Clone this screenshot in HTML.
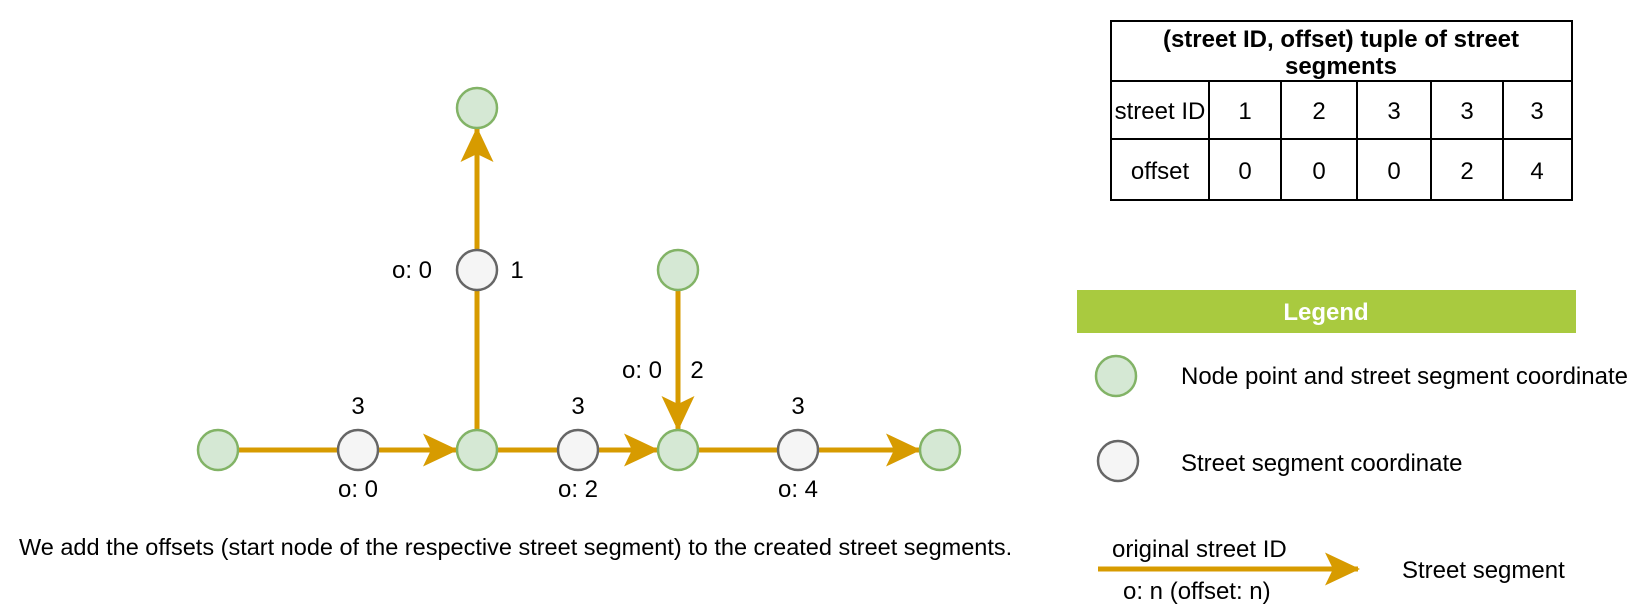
<!DOCTYPE html>
<html><head><meta charset="utf-8"><style>
body{margin:0;background:#fff;width:1648px;height:604px;overflow:hidden;font-family:"Liberation Sans",sans-serif}
svg{position:absolute;left:0;top:0}
text{font-family:"Liberation Sans",sans-serif;fill:#000}
</style></head><body>
<svg width="1648" height="604">
<defs>
<marker id="ah" markerWidth="7" markerHeight="7" refX="6.6" refY="3.5" orient="auto" markerUnits="strokeWidth">
<path d="M0,0.2 L7,3.5 L0,6.8 L1.6,3.5 Z" fill="#d79b00"/></marker>
</defs>
<g id="edges"></g>
<g id="nodes"></g>
<g id="labels" font-size="24"></g>
<text x="19" y="555" font-size="23.5">We add the offsets (start node of the respective street segment) to the created street segments.</text>

<g stroke="#000" stroke-width="2" fill="none">
<rect x="1111" y="21" width="461" height="179"/>
<line x1="1111" y1="81" x2="1572" y2="81"/>
<line x1="1111" y1="139" x2="1572" y2="139"/>
<line x1="1209" y1="81" x2="1209" y2="200"/>
<line x1="1281" y1="81" x2="1281" y2="200"/>
<line x1="1357" y1="81" x2="1357" y2="200"/>
<line x1="1431" y1="81" x2="1431" y2="200"/>
<line x1="1503" y1="81" x2="1503" y2="200"/>
</g>
<g font-size="24" text-anchor="middle">
<text x="1341" y="47" font-weight="bold">(street ID, offset) tuple of street</text>
<text x="1341" y="74" font-weight="bold">segments</text>
<text x="1160" y="119">street ID</text>
<text x="1160" y="179">offset</text>
<g id="tcells"></g>
</g>

<g>
<rect x="1077" y="290" width="499" height="43" fill="#a9ca3f"/>
<text x="1326" y="320" font-size="24" font-weight="bold" text-anchor="middle" style="fill:#fff">Legend</text>
<circle cx="1116" cy="376" r="20" fill="#d5e8d4" stroke="#82b366" stroke-width="2.5"/>
<text x="1181" y="384" font-size="24">Node point and street segment coordinate</text>
<circle cx="1118" cy="461" r="20" fill="#f5f5f5" stroke="#666" stroke-width="2.5"/>
<text x="1181" y="471" font-size="24">Street segment coordinate</text>
<line x1="1098" y1="569" x2="1358" y2="569" stroke="#d79b00" stroke-width="5" marker-end="url(#ah)"/>
<text x="1112" y="557" font-size="24">original street ID</text>
<text x="1123" y="599" font-size="24">o: n (offset: n)</text>
<text x="1402" y="578" font-size="24">Street segment</text>
</g>
</svg>
<script>
const nodeX=[218,358,477,578,678,798,940,477,477,678];
const nodeY=[450,450,450,450,450,450,450,270,108,270];
const nodeType=['g','w','g','w','g','w','g','w','g','g'];
const edgeFrom=[0,1,2,3,4,5,2,7,9];
const edgeTo=[1,2,3,4,5,6,7,8,4];
const edgeArrow=[0,1,0,1,0,1,0,1,1];
const streetIds=['1','2','3','3','3'];
const offsets=['0','0','0','2','4'];
const NS='http://www.w3.org/2000/svg',R=20;
const eg=document.getElementById('edges'),ng=document.getElementById('nodes'),lg=document.getElementById('labels'),tc=document.getElementById('tcells');
for(let i=0;i<edgeFrom.length;i++){
 const a=edgeFrom[i],b=edgeTo[i];
 const dx=nodeX[b]-nodeX[a],dy=nodeY[b]-nodeY[a],L=Math.hypot(dx,dy);
 const l=document.createElementNS(NS,'line');
 
 
 l.setAttribute('x1',nodeX[a]+dx/L*R);l.setAttribute('y1',nodeY[a]+dy/L*R);
 l.setAttribute('x2',nodeX[b]-dx/L*(R+1));l.setAttribute('y2',nodeY[b]-dy/L*(R+1));
 l.setAttribute('stroke','#d79b00');l.setAttribute('stroke-width','5');
 if(edgeArrow[i])l.setAttribute('marker-end','url(#ah)');
 eg.appendChild(l);
}
for(let i=0;i<nodeX.length;i++){
 const c=document.createElementNS(NS,'circle');
 
 
 c.setAttribute('cx',nodeX[i]);c.setAttribute('cy',nodeY[i]);c.setAttribute('r',R);
 c.setAttribute('fill',nodeType[i]=='g'?'#d5e8d4':'#f5f5f5');
 c.setAttribute('stroke',nodeType[i]=='g'?'#82b366':'#666');c.setAttribute('stroke-width','2.5');
 ng.appendChild(c);
}
const labT=['3','o: 0','3','o: 2','3','o: 4','o: 0','1','o: 0','2'];
const labX=[358,358,578,578,798,798,412,517,642,697];
const labY=[414,497,414,497,414,497,278,278,378,378];
for(let i=0;i<labT.length;i++){
 const t=document.createElementNS(NS,'text');
 
 
 t.setAttribute('x',labX[i]);t.setAttribute('y',labY[i]);t.setAttribute('text-anchor','middle');
 t.textContent=labT[i];lg.appendChild(t);
}
const colC=[1245,1319,1394,1467,1537];
for(let i=0;i<streetIds.length;i++){
 for(const [v,y] of [[streetIds[i],119],[offsets[i],179]]){
  const t=document.createElementNS(NS,'text');
  
  
  t.setAttribute('x',colC[i]);t.setAttribute('y',y);
  t.textContent=v;tc.appendChild(t);
 }
}
</script>
</body></html>
